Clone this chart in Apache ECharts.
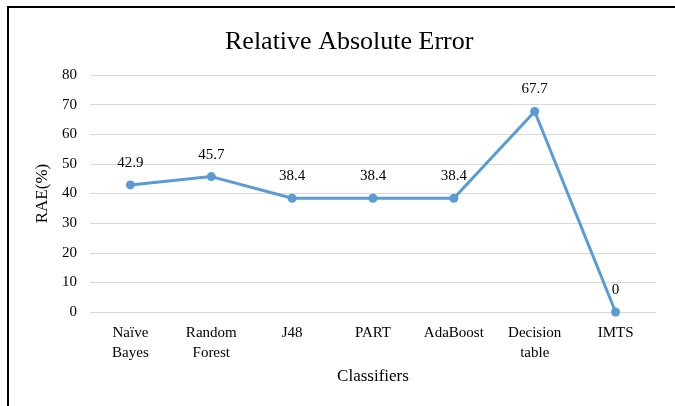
<!DOCTYPE html>
<html><head><meta charset="utf-8">
<script src="https://cdn.jsdelivr.net/npm/echarts@6/dist/echarts.min.js"></script>
<style>html,body{margin:0;padding:0;background:#fff;}#c{width:675px;height:406px;}</style>
</head><body><div id="c"></div>
<script>
var categories = ["Naïve\nBayes", "Random\nForest", "J48", "PART", "AdaBoost", "Decision\ntable", "IMTS"];
var raeValues = [42.9, 45.7, 38.4, 38.4, 38.4, 67.7, 0];
var yTicks = [0, 10, 20, 30, 40, 50, 60, 70, 80];
var font = "'Liberation Serif', 'Times New Roman', serif";
var chart = echarts.init(document.getElementById('c'));
chart.setOption({
  animation: false,
  title: {text: 'Relative Absolute Error', left: 220, top: 24,
    textStyle: {fontFamily: font, fontSize: 26, fontWeight: 'normal', color: '#000'}},
  grid: {left: 90, right: 19, top: 75, bottom: 94},
  graphic: [{type: 'rect', shape: {x: 8, y: 7, width: 700, height: 430},
    style: {fill: 'none', stroke: '#000', lineWidth: 2}, silent: true}],
  xAxis: {type: 'category', data: categories, boundaryGap: true,
    name: 'Classifiers', nameLocation: 'middle', nameGap: 55,
    nameTextStyle: {fontFamily: font, fontSize: 17, color: '#000'},
    axisLine: {show: false}, axisTick: {show: false},
    axisLabel: {fontFamily: font, fontSize: 15, color: '#000', margin: 11, lineHeight: 20, interval: 0}},
  yAxis: {type: 'value', min: yTicks[0], max: yTicks[yTicks.length - 1], interval: 10,
    name: 'RAE(%)', nameLocation: 'middle', nameGap: 31, nameRotate: 90,
    nameTextStyle: {fontFamily: font, fontSize: 17, color: '#000'},
    axisLine: {show: false}, axisTick: {show: false},
    axisLabel: {fontFamily: font, fontSize: 15, color: '#000', margin: 13},
    splitLine: {lineStyle: {color: '#d9d9d9', width: 1}}},
  series: [{type: 'line', data: raeValues, symbol: 'circle', symbolSize: 9,
    lineStyle: {color: '#5b9bd5', width: 3}, itemStyle: {color: '#5b9bd5'},
    label: {show: true, position: 'top', distance: 10, fontFamily: font, fontSize: 15, color: '#000'}}]
});
</script></body></html>
